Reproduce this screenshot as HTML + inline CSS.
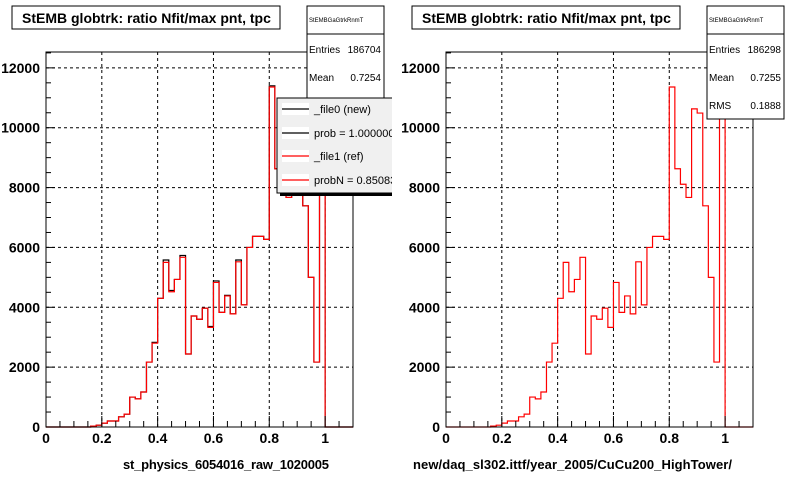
<!DOCTYPE html>
<html><head><meta charset="utf-8"><style>
html,body{margin:0;padding:0;background:#fff;width:800px;height:480px;overflow:hidden}
svg{display:block;font-family:"Liberation Sans",Arial,sans-serif}
</style></head><body>
<svg id="c" width="800" height="480" viewBox="0 0 800 480" xmlns="http://www.w3.org/2000/svg"></svg>
<script>
const binEdgesStart = 0.0;
const binWidth = 0.02;
const refCounts = [0,0,0,0,0,0,0,0,30,60,130,200,200,340,430,1000,940,1170,2170,2800,4300,5500,4520,4930,5670,2440,3710,3600,3970,3330,4830,3830,4380,3780,5520,4080,6000,6370,6370,6270,11360,8630,8110,7670,10630,10490,7390,5000,2170,11950,0,0,0,0,0];
const newCounts = [0,0,0,0,0,0,0,0,30,60,130,200,200,340,430,1000,940,1170,2170,2830,4300,5580,4560,4930,5730,2440,3710,3600,3970,3360,4880,3830,4400,3780,5580,4080,6000,6370,6370,6270,11400,8630,8110,7670,10630,10490,7390,5000,2170,11950,0,0,0,0,0];
const xTicks = ["0","0.2","0.4","0.6","0.8","1"];
const yTicks = ["0","2000","4000","6000","8000","10000","12000"];
const NS="http://www.w3.org/2000/svg", svg=document.getElementById('c');
function mk(t,a,p){const e=document.createElementNS(NS,t);for(const k in a)e.setAttribute(k,a[k]);(p||svg).appendChild(e);return e;}
const Y0=427,Y1=52,YMAX=12530;
function panel(ox,title,xtitle,series,statE,statM,statR,legend){
  const g=mk('g',{});
  
  
  const X0=ox+46,X1=ox+353;
  const sx=v=>X0+(X1-X0)*v/1.1, sy=v=>Y0-(Y0-Y1)*v/YMAX;
  for(let i=1;i<xTicks.length;i++){const x=sx(+xTicks[i]);const l=mk('line',{x1:x,x2:x,y1:Y0,y2:Y1,stroke:'#000','stroke-dasharray':'3,3','stroke-width':1},g);}
  for(let i=1;i<yTicks.length;i++){const y=sy(+yTicks[i]);const l=mk('line',{x1:X0,x2:X1,y1:y,y2:y,stroke:'#000','stroke-dasharray':'3,3','stroke-width':1},g);}
  series.forEach(s=>{
    let d='M'+X0+','+Y0;
    s.data.forEach((v,i)=>{const xa=sx(binEdgesStart+i*binWidth),xb=sx(binEdgesStart+(i+1)*binWidth);const y=sy(v);d+=' L'+xa+','+y+' L'+xb+','+y;});
    d+=' L'+X1+','+Y0;
    const p=mk('path',{d:d,fill:'none',stroke:s.color,'stroke-width':1.2},g);
    
    
  });
  const f=mk('rect',{x:X0,y:Y1,width:X1-X0,height:Y0-Y1,fill:'none',stroke:'#000','stroke-width':1},g);
  
  for(let v=0;v<=1.1001;v+=0.05){const x=sx(v);const maj=Math.abs(v/0.2-Math.round(v/0.2))<1e-6;mk('line',{x1:x,x2:x,y1:Y0,y2:Y0-(maj?11:6),stroke:'#000'},g);}
  for(let v=0;v<=YMAX;v+=500){const y=sy(v);const maj=v%2000==0;mk('line',{x1:X0,x2:X0+(maj?9:5),y1:y,y2:y,stroke:'#000'},g);}
  xTicks.forEach(t=>{const e=mk('text',{x:sx(+t),y:443,'text-anchor':'middle','font-size':14,'font-weight':'bold'},g);e.textContent=t;});
  yTicks.forEach(t=>{const e=mk('text',{x:ox+40,y:sy(+t)+5,'text-anchor':'end','font-size':14,'font-weight':'bold'},g);e.textContent=t;});
  const xt=mk('text',{x:(ox?413:123),y:469,'font-size':13,'font-weight':'bold',textLength:ox?319:206},g);xt.textContent=xtitle;
  
  const tb=mk('rect',{x:ox+12,y:6,width:268,height:23,fill:'#fff',stroke:'#000'},g);
  
  const tt=mk('text',{x:ox+22,y:23,'font-size':14,'font-weight':'bold'},g);tt.textContent=title;
  
  const sb=mk('g',{},g);
  mk('rect',{x:ox+307,y:6,width:77,height:113,fill:'#fff',stroke:'#000'},sb);
  mk('line',{x1:ox+307,x2:ox+384,y1:34,y2:34,stroke:'#000'},sb);
  const rows=[['StEMBGaGtrkRnmT','',22,6],['Entries',statE,53,10],['Mean',statM,81,10],['RMS',statR,109,10]];
  rows.forEach(r=>{const a=mk('text',{x:ox+309,y:r[2],'font-size':r[3]},sb);a.textContent=r[0];const b=mk('text',{x:ox+381,y:r[2],'font-size':r[3],'text-anchor':'end'},sb);b.textContent=r[1];});
  if(legend){
    const lg=mk('g',{},g);
    mk('rect',{x:280,y:101,width:120,height:95,fill:'#000'},lg);
    mk('rect',{x:277,y:98,width:120,height:95,fill:'#f0f0f0',stroke:'#000'},lg);
    const ent=[['_file0 (new)','#000',109],['prob = 1.000000','#000',133],['_file1 (ref)','#f00',156],['probN = 0.850830','#f00',180]];
    ent.forEach(e=>{const eg=mk('g',{},lg);
      mk('rect',{x:282,y:e[2]-6,width:27,height:12,fill:'#fff'},eg);
      mk('line',{x1:282,x2:309,y1:e[2],y2:e[2],stroke:e[1],'stroke-width':1.2},eg);
      const t=mk('text',{x:314,y:e[2]+4,'font-size':11},eg);t.textContent=e[0];});
  }
}
panel(0,'StEMB globtrk: ratio Nfit/max pnt, tpc','st_physics_6054016_raw_1020005',
  [{data:newCounts,color:'#000',name:'series-new'},{data:refCounts,color:'#f00',name:'series-ref'}],'186704','0.7254','0.1888',true);
const cover=mk('rect',{x:392,y:95,width:12,height:105,fill:'#fff'});

panel(400,'StEMB globtrk: ratio Nfit/max pnt, tpc','new/daq_sl302.ittf/year_2005/CuCu200_HighTower/',
  [{data:refCounts,color:'#f00',name:'series-ref'}],'186298','0.7255','0.1888',false);
</script>
</body></html>
